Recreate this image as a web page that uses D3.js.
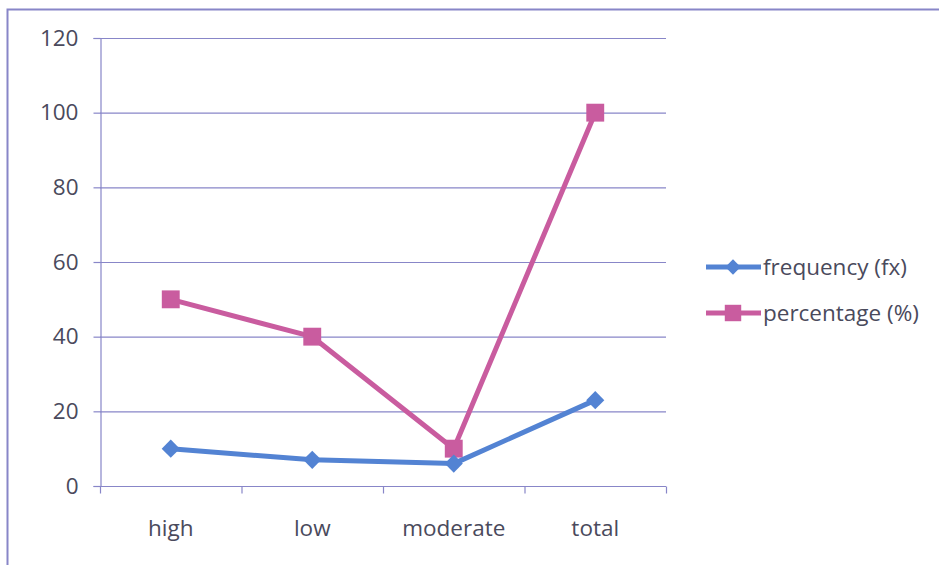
<!DOCTYPE html>
<html>
<head>
<meta charset="utf-8">
<script src="https://cdn.jsdelivr.net/npm/d3@7"></script>
<style>
  html, body { margin: 0; padding: 0; background: #ffffff; }
  svg { display: block; }
</style>
</head>
<body>
<svg id="chart" width="939" height="565"></svg>
<script>
// Chart data
const categories = ["high", "low", "moderate", "total"];
const frequency = [10, 7, 6, 23];
const percentage = [50, 40, 10, 100];
const yTicks = [0, 20, 40, 60, 80, 100, 120];
const seriesNames = ["frequency (fx)", "percentage (%)"];

const W = 939, H = 565;
const plot = { left: 100, right: 666, top: 38, bottom: 486 };
const axisColor = "#8886c8";
const textColor = "#4a4a5c";
const blue = "#5383d3";
const pink = "#c95c9f";
const font = "'Open Sans', sans-serif";
const fontSize = 22.5;

const svg = d3.select("#chart");

// Outer chart frame (only left and top edges fall inside the view)
svg.append("rect")
  .attr("x", 0).attr("y", 0).attr("width", W).attr("height", H)
  .attr("fill", "#ffffff");
svg.append("path")
  .attr("d", `M7.5,${H} L7.5,9.5 L${W},9.5`)
  .attr("fill", "none").attr("stroke", axisColor).attr("stroke-width", 2);

const x = d3.scaleBand().domain(categories).range([plot.left, plot.right]).padding(0);
const y = d3.scaleLinear().domain([0, 120]).range([plot.bottom, plot.top]);
const cx = d => x(d) + x.bandwidth() / 2;

// Horizontal gridlines
svg.append("g").selectAll("line")
  .data(yTicks.filter(t => t > 0))
  .join("line")
  .attr("x1", plot.left).attr("x2", plot.right)
  .attr("y1", d => y(d) + 0.5).attr("y2", d => y(d) + 0.5)
  .attr("stroke", axisColor).attr("stroke-width", 1.2);

// Y axis
const yAxis = svg.append("g")
  .attr("transform", `translate(${plot.left + 0.5},0)`)
  .call(d3.axisLeft(y).tickValues(yTicks).tickSize(7).tickPadding(15));
yAxis.select(".domain").attr("stroke", axisColor).attr("stroke-width", 1.2);
yAxis.selectAll(".tick line").attr("stroke", axisColor).attr("stroke-width", 1.2);
yAxis.selectAll(".tick text")
  .attr("fill", textColor).attr("font-family", font).attr("font-size", fontSize);

// X axis: tick marks at category boundaries
const xAxisG = svg.append("g").attr("transform", `translate(0,${plot.bottom + 0.5})`);
xAxisG.append("line")
  .attr("x1", plot.left).attr("x2", plot.right)
  .attr("stroke", axisColor).attr("stroke-width", 1.2);
const bounds = categories.map(c => x(c)).concat([plot.right]);
xAxisG.selectAll("line.tk").data(bounds).join("line").attr("class", "tk")
  .attr("x1", d => d + 0.5).attr("x2", d => d + 0.5)
  .attr("y1", 0).attr("y2", 7)
  .attr("stroke", axisColor).attr("stroke-width", 1.2);
xAxisG.selectAll("text").data(categories).join("text")
  .attr("x", d => cx(d)).attr("y", 49)
  .attr("text-anchor", "middle")
  .attr("fill", textColor).attr("font-family", font).attr("font-size", fontSize)
  .text(d => d);

// Series lines and markers
const line = d3.line().x((d, i) => cx(categories[i])).y(d => y(d));
const diamond = d3.symbol().type(d3.symbolDiamond2).size(210);
const square = d3.symbol().type(d3.symbolSquare).size(320);

function drawSeries(values, color, sym) {
  const g = svg.append("g");
  g.append("path").datum(values)
    .attr("d", line).attr("fill", "none")
    .attr("stroke", color).attr("stroke-width", 5).attr("stroke-linejoin", "round");
  g.selectAll("path.m").data(values).join("path").attr("class", "m")
    .attr("transform", (d, i) => `translate(${cx(categories[i])},${y(d)})`)
    .attr("d", sym).attr("fill", color);
}
drawSeries(percentage, pink, square);
drawSeries(frequency, blue, diamond);

// Legend
const legend = svg.append("g");
const legendItems = [
  { name: seriesNames[0], color: blue, sym: d3.symbol().type(d3.symbolDiamond2).size(150), y: 267 },
  { name: seriesNames[1], color: pink, sym: d3.symbol().type(d3.symbolSquare).size(270), y: 313 }
];
legendItems.forEach(it => {
  legend.append("line")
    .attr("x1", 706).attr("x2", 761).attr("y1", it.y).attr("y2", it.y)
    .attr("stroke", it.color).attr("stroke-width", 5);
  legend.append("path")
    .attr("transform", `translate(733,${it.y})`)
    .attr("d", it.sym).attr("fill", it.color);
  legend.append("text")
    .attr("x", 763).attr("y", it.y + 8)
    .attr("fill", textColor).attr("font-family", font).attr("font-size", fontSize)
    .text(it.name);
});
</script>
</body>
</html>
